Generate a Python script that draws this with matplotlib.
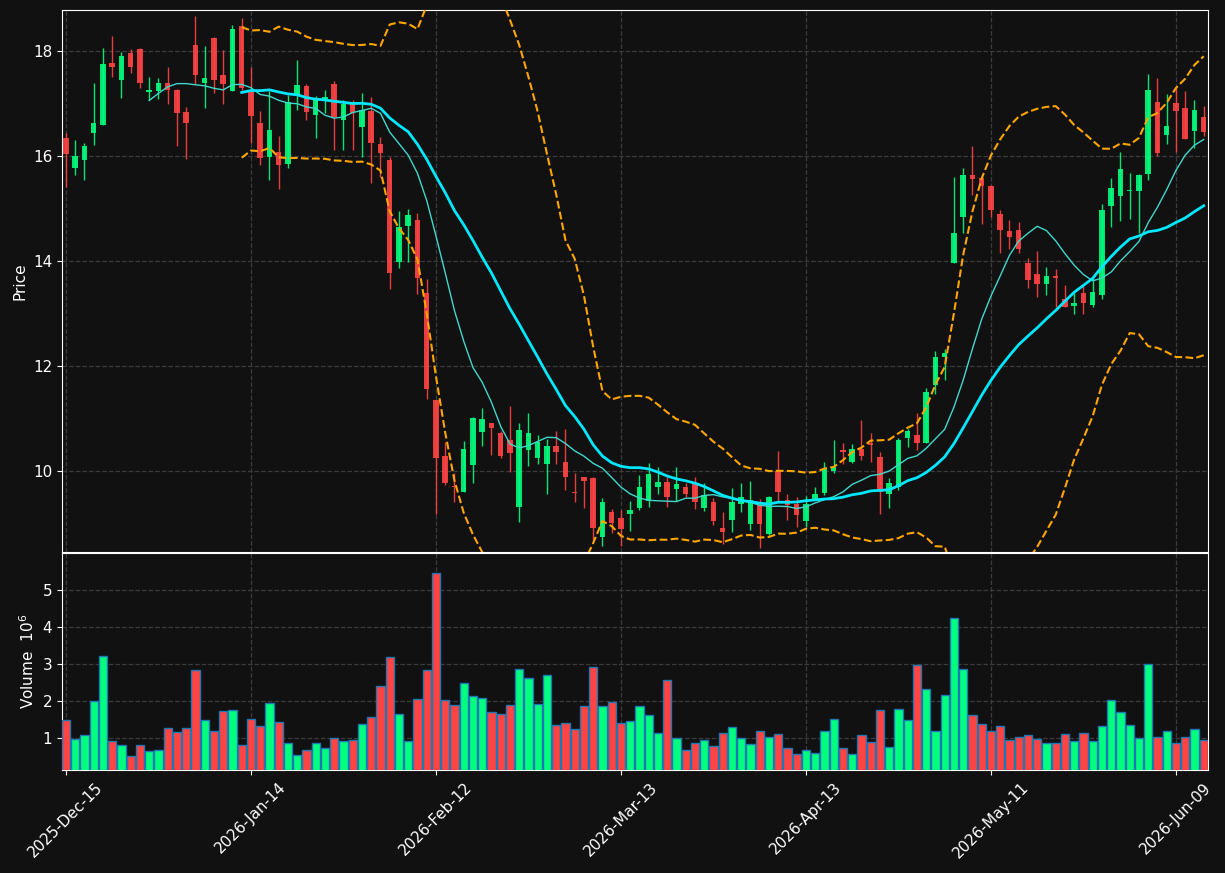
import matplotlib
matplotlib.use('Agg')
import matplotlib.pyplot as plt
import numpy as np
import pandas as pd

# daily OHLC (price) and volume (millions)
opens = [16.35, 15.77, 15.92, 16.43, 16.60, 17.78, 17.44, 17.97, 18.04, 17.21,
         17.23, 17.40, 17.26, 16.83, 18.12, 17.40, 18.25, 17.55, 17.23, 18.48,
         17.24, 16.63, 15.99, 16.08, 15.84, 17.16, 17.34, 16.79, 17.04, 17.38,
         16.68, 17.00, 16.55, 16.85, 16.23, 15.93, 13.99, 14.66, 14.79, 13.40,
         11.35, 10.29, 9.71, 9.61, 10.11, 10.75, 10.91, 10.72, 10.59, 9.32,
         10.41, 10.25, 10.14, 10.48, 10.17, 9.61, 9.88, 9.87, 8.75, 9.23,
         9.10, 9.19, 9.30, 9.43, 9.70, 9.79, 9.66, 9.70, 9.75, 9.30,
         9.41, 8.91, 9.07, 9.38, 9.00, 9.36, 8.81, 10.01, 9.45, 9.37,
         9.05, 9.47, 9.59, 10.01, 10.40, 10.18, 10.43, 10.53, 10.26, 9.57,
         9.70, 10.63, 10.68, 10.53, 11.64, 12.18, 13.96, 14.84, 15.64, 15.59,
         15.43, 14.90, 14.57, 14.59, 13.96, 13.75, 13.57, 13.71, 13.28, 13.15,
         13.39, 13.17, 13.35, 15.05, 15.24, 15.34, 15.34, 15.66, 17.03, 16.40,
         17.01, 16.91, 16.48, 16.74]
highs = [16.43, 16.30, 16.25, 17.39, 18.06, 18.29, 17.99, 18.03, 18.06, 17.50,
         17.49, 17.70, 17.28, 16.93, 18.67, 18.10, 18.27, 18.02, 18.50, 18.63,
         17.70, 16.86, 17.23, 16.39, 17.16, 17.82, 17.38, 17.15, 17.26, 17.42,
         17.07, 17.07, 17.20, 17.12, 16.37, 15.99, 14.95, 14.99, 14.92, 13.65,
         11.36, 10.56, 9.96, 10.57, 11.03, 11.21, 10.92, 10.77, 11.24, 10.91,
         11.10, 10.68, 10.62, 10.76, 10.81, 9.96, 9.89, 9.89, 9.49, 9.27,
         9.26, 9.43, 9.92, 10.15, 10.07, 9.89, 10.07, 9.78, 9.89, 9.77,
         9.49, 9.23, 9.67, 9.77, 9.82, 9.46, 9.52, 10.38, 9.57, 9.50,
         9.52, 9.69, 10.18, 10.59, 10.53, 10.51, 10.98, 10.72, 10.37, 9.86,
         10.64, 10.81, 11.11, 11.59, 12.28, 12.32, 15.61, 15.78, 16.20, 15.62,
         15.45, 14.97, 14.79, 14.75, 14.05, 14.20, 13.88, 13.84, 13.54, 13.40,
         13.52, 13.68, 15.08, 15.59, 16.07, 15.68, 15.65, 17.56, 17.48, 17.19,
         17.29, 17.23, 17.07, 16.95]
lows = [15.41, 15.64, 15.54, 16.21, 16.60, 17.50, 17.10, 17.58, 17.30, 17.07,
        17.09, 16.99, 16.19, 15.94, 17.38, 16.91, 17.20, 16.99, 17.23, 17.25,
        16.25, 15.82, 15.54, 15.37, 15.77, 16.88, 16.69, 16.34, 16.82, 16.11,
        16.11, 16.12, 15.99, 15.49, 15.61, 13.47, 13.87, 13.99, 13.38, 11.37,
        9.19, 9.73, 9.41, 9.61, 9.77, 10.48, 10.30, 10.25, 9.99, 9.03,
        10.10, 10.14, 9.57, 10.13, 9.65, 9.41, 9.29, 8.69, 8.58, 8.83,
        8.57, 8.86, 9.26, 9.31, 9.57, 9.31, 9.43, 9.51, 9.27, 9.24,
        8.97, 8.62, 8.84, 9.23, 8.88, 8.53, 8.78, 9.43, 9.07, 8.93,
        8.94, 9.47, 9.54, 9.96, 10.13, 10.16, 10.21, 10.17, 9.19, 9.29,
        9.64, 10.45, 10.41, 10.53, 11.47, 11.73, 13.96, 14.54, 15.26, 14.70,
        14.84, 14.15, 14.23, 14.16, 13.49, 13.31, 13.35, 13.12, 13.12, 12.99,
        12.99, 13.12, 13.27, 14.65, 14.76, 14.81, 14.53, 15.54, 16.00, 16.23,
        16.08, 16.32, 16.15, 16.38]
closes = [16.04, 16.01, 16.20, 16.62, 17.76, 17.69, 17.91, 17.69, 17.40, 17.26,
          17.40, 17.25, 16.81, 16.62, 17.54, 17.49, 17.44, 17.38, 18.41, 17.30,
          16.77, 15.96, 16.50, 15.82, 17.02, 17.36, 16.83, 17.09, 17.12, 16.74,
          17.00, 16.81, 16.88, 16.25, 16.05, 13.78, 14.65, 14.88, 13.67, 11.57,
          10.25, 9.78, 9.69, 10.43, 11.01, 10.99, 10.83, 10.29, 10.34, 10.79,
          10.72, 10.56, 10.48, 10.37, 9.89, 9.59, 9.82, 8.92, 9.41, 9.02,
          8.90, 9.26, 9.70, 9.94, 9.79, 9.51, 9.75, 9.56, 9.42, 9.54,
          9.05, 8.84, 9.41, 9.50, 9.45, 9.00, 9.50, 9.61, 9.36, 9.17,
          9.37, 9.57, 10.04, 10.07, 10.36, 10.43, 10.29, 10.49, 9.61, 9.78,
          10.59, 10.76, 10.54, 11.50, 12.17, 12.24, 14.53, 15.63, 15.56, 15.42,
          14.98, 14.60, 14.46, 14.23, 13.64, 13.57, 13.71, 13.68, 13.12, 13.21,
          13.21, 13.41, 14.98, 15.39, 15.75, 15.35, 15.64, 17.26, 16.06, 16.57,
          16.86, 16.32, 16.88, 16.46]
volumes = [1.49, 0.97, 1.08, 2.00, 3.22, 0.92, 0.81, 0.51, 0.81, 0.65,
           0.68, 1.27, 1.16, 1.27, 2.84, 1.49, 1.19, 1.73, 1.76, 0.81,
           1.51, 1.32, 1.95, 1.43, 0.86, 0.54, 0.68, 0.86, 0.73, 1.00,
           0.92, 0.95, 1.38, 1.57, 2.41, 3.19, 1.65, 0.92, 2.05, 2.84,
           5.46, 2.03, 1.89, 2.49, 2.14, 2.08, 1.70, 1.65, 1.89, 2.86,
           2.62, 1.92, 2.70, 1.35, 1.41, 1.24, 1.86, 2.92, 1.86, 1.97,
           1.41, 1.46, 1.86, 1.62, 1.13, 2.57, 1.00, 0.68, 0.86, 0.95,
           0.78, 1.14, 1.30, 1.00, 0.84, 1.19, 1.03, 1.11, 0.73, 0.57,
           0.68, 0.59, 1.19, 1.51, 0.73, 0.57, 1.08, 0.89, 1.76, 0.75,
           1.78, 1.49, 2.97, 2.32, 1.19, 2.16, 4.24, 2.86, 1.62, 1.38,
           1.19, 1.32, 0.95, 1.03, 1.08, 0.97, 0.86, 0.86, 1.11, 0.92,
           1.14, 0.92, 1.32, 2.03, 1.70, 1.35, 1.00, 3.00, 1.03, 1.19,
           0.86, 1.03, 1.24, 0.95]

tick_pos = [0, 20, 40, 60, 80, 100, 120]
tick_labels = ['2025-Dec-15', '2026-Jan-14', '2026-Feb-12', '2026-Mar-13',
               '2026-Apr-13', '2026-May-11', '2026-Jun-09']

BG = '#111111'
UP = '#00ff7f'
DOWN = '#ff4444'

df = pd.DataFrame({'open': opens, 'high': highs, 'low': lows,
                   'close': closes, 'volume': volumes})
x = np.arange(len(df))
colors = np.where(df['close'] >= df['open'], UP, DOWN)

sma10 = df['close'].rolling(10).mean()
sma20 = df['close'].rolling(20).mean()
std20 = df['close'].rolling(20).std(ddof=0)

fig = plt.figure(figsize=(12.25, 8.73), dpi=100, facecolor=BG)
ax = fig.add_axes([0.0506, 0.3677, 0.9355, 0.6208])
axv = fig.add_axes([0.0506, 0.118, 0.9355, 0.2486], sharex=ax)

for a in (ax, axv):
    a.set_facecolor(BG)
    for s in a.spines.values():
        s.set_color('white')
    a.tick_params(colors='white', labelsize=11)
    a.grid(True, color='#3c3c3c', linestyle='--', linewidth=0.9)
    a.set_axisbelow(True)

# candles
body_lo = np.minimum(df['open'], df['close'])
body_h = np.maximum((df['close'] - df['open']).abs(), 0.02)
ax.vlines(x, df['low'], df['high'], colors=colors, linewidth=1, alpha=0.9, zorder=2)
ax.bar(x, body_h, bottom=body_lo, width=0.6, color=colors, alpha=0.9, zorder=3)

# indicators
ax.plot(x, sma10, color='#40d8cc', linewidth=1, zorder=4)
ax.plot(x, sma20, color='#00e8ff', linewidth=2, zorder=4)
ax.plot(x, sma20 + 2 * std20, color='orange', linestyle='--', linewidth=1.5, zorder=4)
ax.plot(x, sma20 - 2 * std20, color='orange', linestyle='--', linewidth=1.5, zorder=4)

ax.set_xlim(-0.43, 123.46)
ax.set_ylim(8.46, 18.78)
ax.set_yticks([10, 12, 14, 16, 18])
ax.set_ylabel('Price', color='white', fontsize=11)
ax.tick_params(axis='x', labelbottom=False, length=0)

# volume
axv.bar(x, df['volume'], width=0.9, color=colors, edgecolor='#1f77b4', linewidth=1, zorder=3)
axv.set_ylim(0.27 * df['volume'].min(), 1.1 * df['volume'].max())
axv.set_yticks([1, 2, 3, 4, 5])
axv.set_ylabel('Volume  $10^{6}$', color='white', fontsize=11)
axv.set_xticks(tick_pos)
axv.set_xticklabels(tick_labels, rotation=45)

fig.savefig('out.png', dpi=100, facecolor=BG)
